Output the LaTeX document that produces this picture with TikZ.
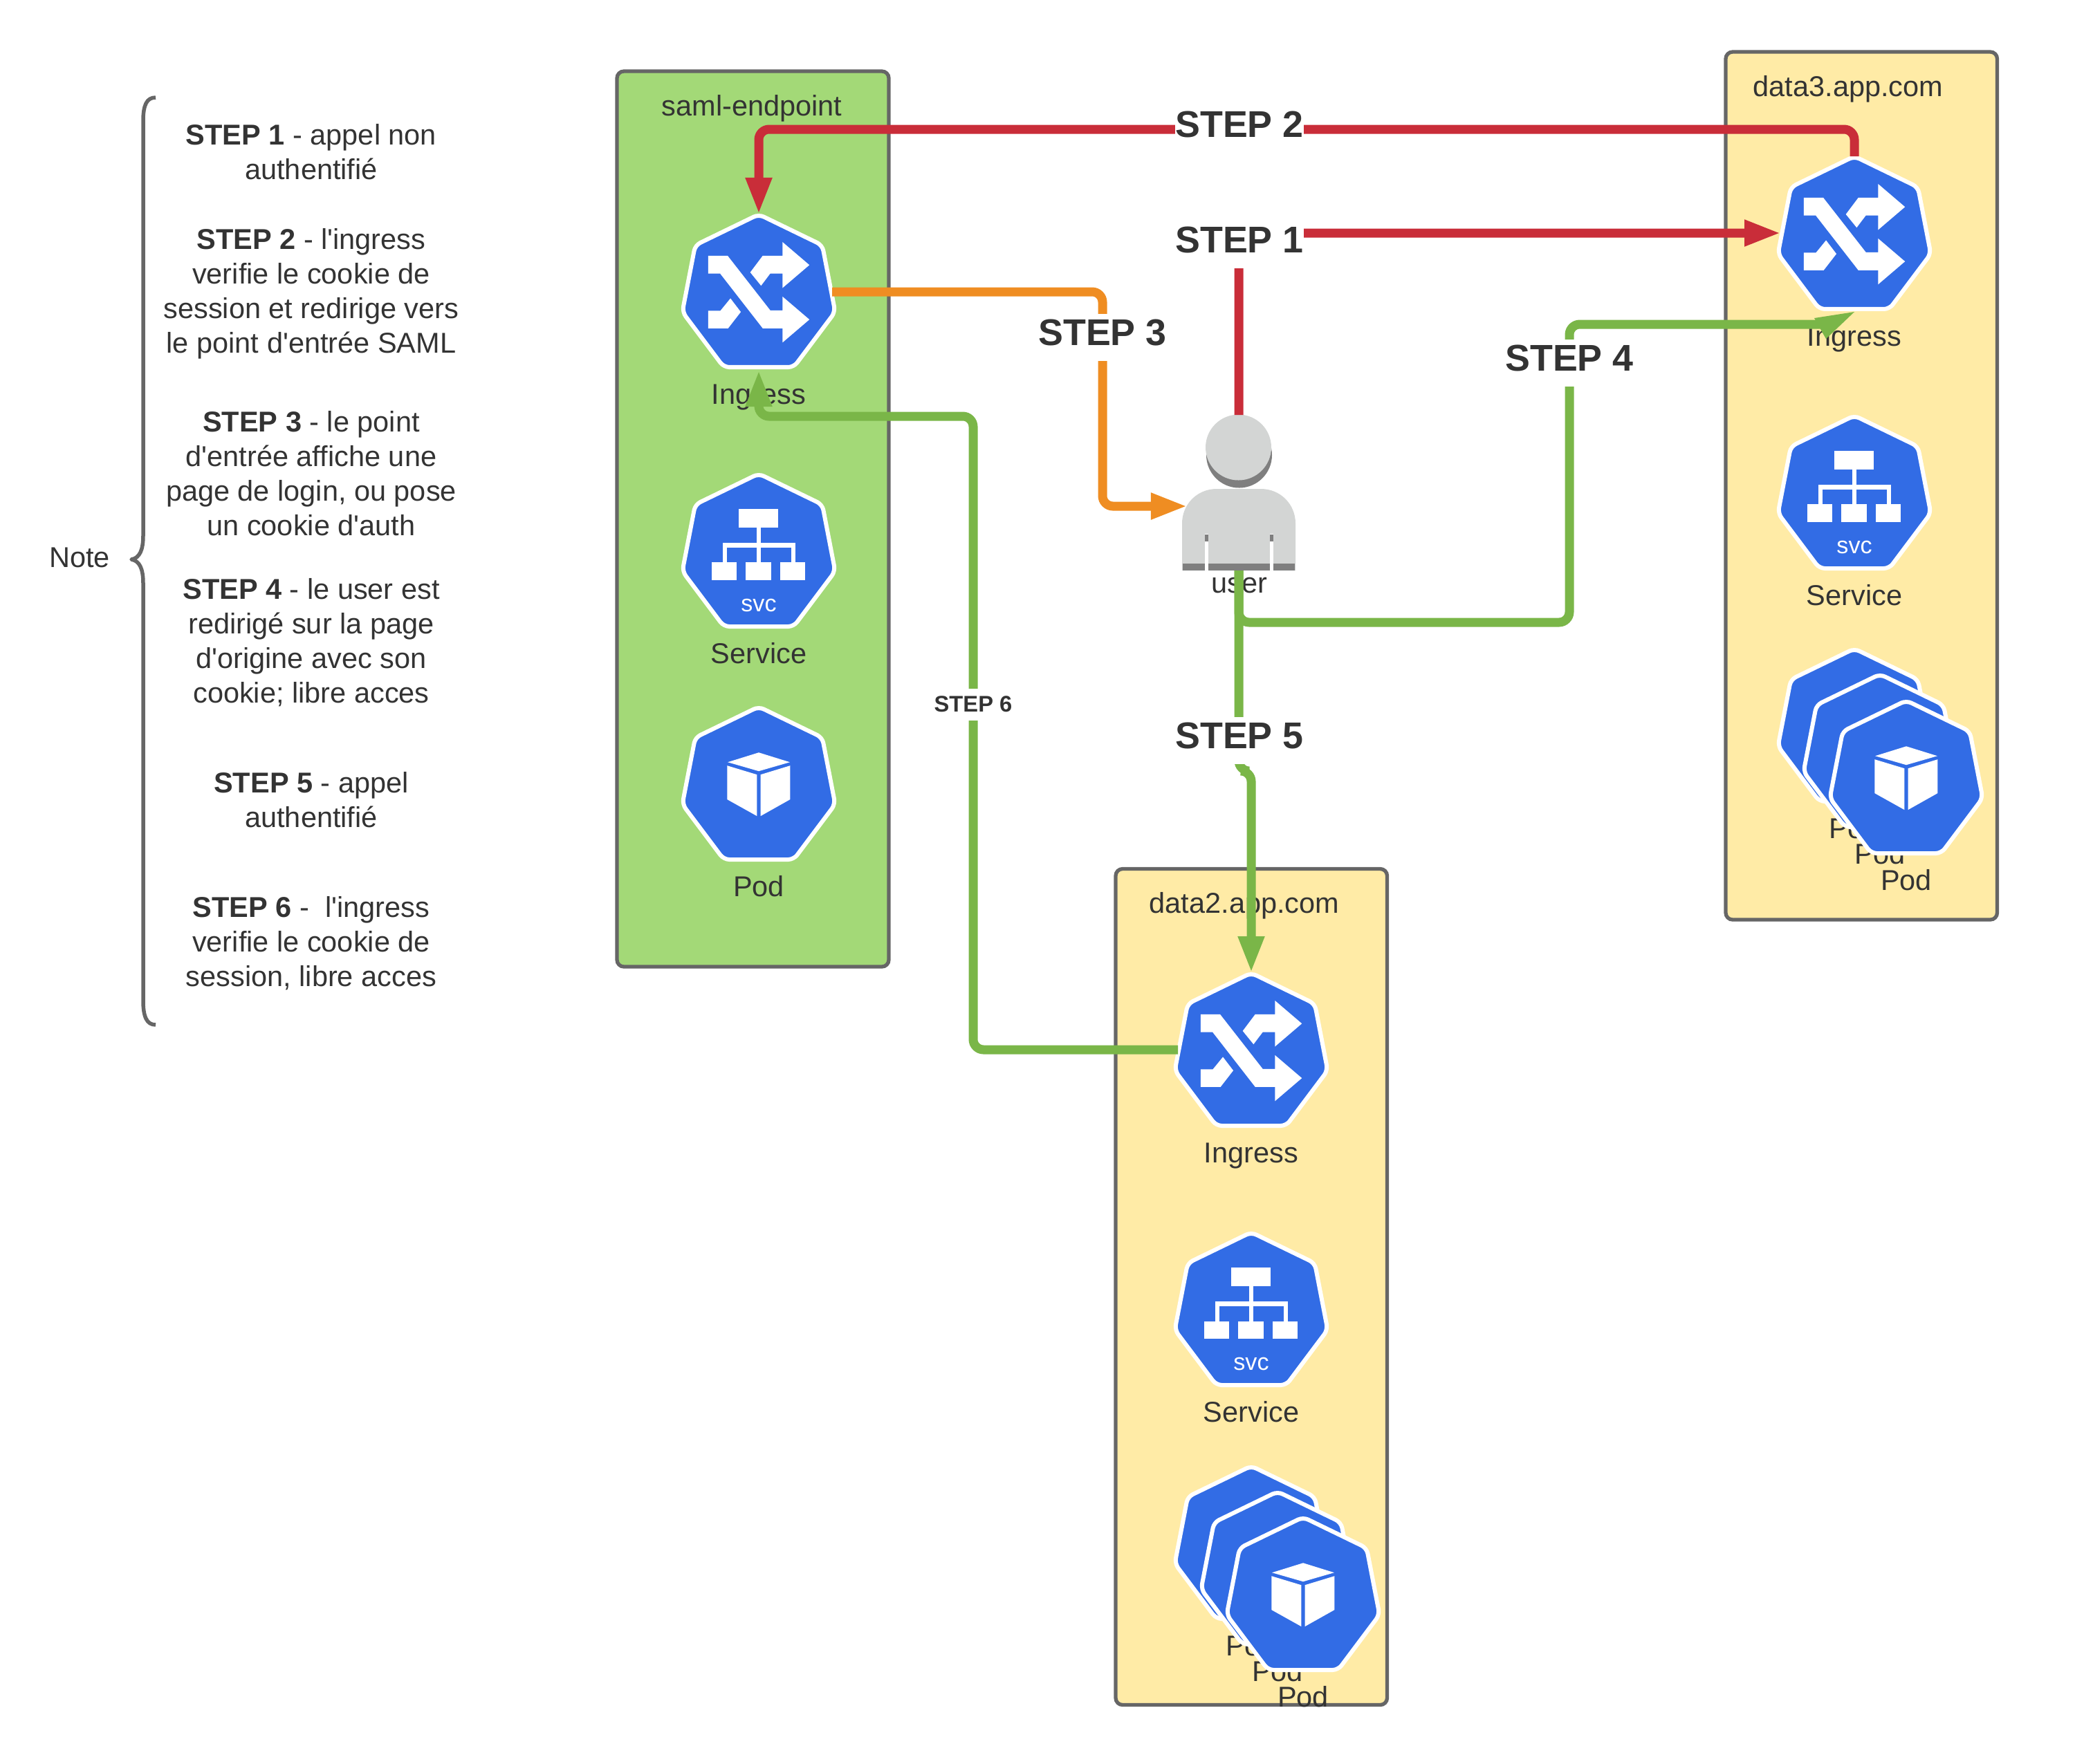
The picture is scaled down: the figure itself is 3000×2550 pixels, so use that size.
\documentclass[tikz,border=0pt]{standalone}
\usepackage{fontspec}
\setmainfont{Liberation Sans}
\newfontfamily\libplain{Liberation Sans}
\usetikzlibrary{arrows.meta,calc}
\definecolor{kblue}{HTML}{326CE5}
\definecolor{ink}{HTML}{333333}
\definecolor{framec}{HTML}{666666}
\definecolor{samlg}{HTML}{A3D977}
\definecolor{datay}{HTML}{FFEBA6}
\definecolor{cred}{HTML}{C92D39}
\definecolor{corange}{HTML}{EF8D22}
\definecolor{cgreen}{HTML}{7AB648}
\definecolor{ulight}{HTML}{D3D5D4}
\definecolor{udark}{HTML}{7F7F7F}
\tikzset{
  zone/.style={draw=framec,line width=0.053cm,rounded corners=0.1cm},
  txt/.style={text=ink,font=\libplain\fontsize{11.8}{14.22}\selectfont,inner sep=0pt,align=center},
  basetxt/.style={txt,anchor=base},
  steplbl/.style={fill=white,text=ink,font=\fontsize{15.3}{18}\selectfont\bfseries,inner xsep=0pt,inner ysep=0pt,text height=0.455cm,text depth=0.225cm},
  steplblsmall/.style={fill=white,text=ink,font=\fontsize{9.3}{11}\selectfont\bfseries,inner xsep=1pt,inner ysep=0pt,text height=0.33cm,text depth=0.13cm},
  link/.style={line width=0.13cm,rounded corners=0.15cm},
  tip/.style={-{Triangle[length=0.53cm,width=0.35cm]}},
  hept/.style={fill=kblue,draw=white,line width=0.06cm,rounded corners=0.08cm},
}
% glyphs, drawn in a frame where the top of the heptagon is at (440,88), 3 units per pixel
\newcommand\glyphIngress[1]{%
  \fill[white] (220,268)--(305,268)--(490,505)--(543,505)--(543,445)--(660,545)--(543,645)--(543,583)--(457,583)--(272,345)--(220,345)--cycle;
  \fill[white] (403,340)--(457,268)--(543,268)--(543,208)--(660,308)--(543,408)--(543,345)--(490,345)--(450,398)--cycle;
  \fill[white] (220,507)--(273,507)--(317,453)--(362,512)--(307,583)--(220,583)--cycle;
}
\newcommand\glyphSvc[1]{%
  \fill[white] (354,240) rectangle (525,322);
  \fill[white] (431,322) rectangle (449,474);
  \fill[white] (283,387) rectangle (598,409);
  \fill[white] (283,387) rectangle (302,474);
  \fill[white] (580,387) rectangle (598,474);
  \fill[white] (237,474) rectangle (345,552);
  \fill[white] (384,474) rectangle (495,552);
  \fill[white] (534,474) rectangle (642,552);
  \node[text=white,font=\fontsize{9.7}{11}\selectfont,inner sep=0pt,anchor=base] (#1-svc) at (440,688) {svc};
}
\newcommand\glyphPod[1]{%
  \fill[white] (440,287)--(575,329)--(440,368)--(305,329)--cycle;
  \fill[white] (303,344)--(432,383)--(432,563)--(303,491)--cycle;
  \fill[white] (576,344)--(448,383)--(448,563)--(576,491)--cycle;
}
% name, x of centre, y of top, glyph, caption
\newcommand\kicon[5]{%
  \begin{scope}[shift={(#2,#3)}]
    \coordinate (#1) at (0,125);
    \coordinate (#1-n) at (0,0);
    \coordinate (#1-w) at (-106,111);
    \coordinate (#1-e) at (106,112);
    \coordinate (#1-s) at (0,225);
    \node[basetxt] (#1-label) at (0,274) {#5};
    \begin{scope}[x=0.003333cm,y=-0.003333cm,shift={(-440,-88)}]
      \draw[hept] (440,88)--(716,222)--(772,512)--(592,752)--(288,752)--(108,512)--(164,222)--cycle;
      #4{#1}
    \end{scope}
  \end{scope}
}
\begin{document}
\begin{tikzpicture}[x=0.01cm,y=-0.01cm]
\useasboundingbox (0,0) rectangle (3000,2550);
% zones
\path[zone,fill=samlg] (892,103) rectangle (1285,1398);
\path[zone,fill=datay] (2495,75) rectangle (2887.5,1330);
\path[zone,fill=datay] (1613,1256.5) rectangle (2005.5,2465.5);
\node[basetxt] (samltitle) at (1087,167) {saml-endpoint};
\node[basetxt] (data3title) at (2672,139) {data3.app.com};
\node[basetxt] (data2title) at (1799,1320) {data2.app.com};
% kubernetes icons
\kicon{ingS}{1097}{310}{\glyphIngress}{Ingress}
\kicon{svcS}{1097}{685}{\glyphSvc}{Service}
\kicon{podS}{1097}{1022}{\glyphPod}{Pod}
\kicon{ingT}{2681}{226}{\glyphIngress}{Ingress}
\kicon{svcT}{2681}{601}{\glyphSvc}{Service}
\kicon{podTa}{2681}{938}{\glyphPod}{Pod}
\kicon{podTb}{2718}{975}{\glyphPod}{Pod}
\kicon{podTc}{2756}{1013}{\glyphPod}{Pod}
\kicon{ingD}{1809}{1407}{\glyphIngress}{Ingress}
\kicon{svcD}{1809}{1782}{\glyphSvc}{Service}
\kicon{podDa}{1809}{2120}{\glyphPod}{Pod}
\kicon{podDb}{1847}{2157}{\glyphPod}{Pod}
\kicon{podDc}{1884}{2194}{\glyphPod}{Pod}
% user
\coordinate (user-n) at (1791,600);
\coordinate (user-w) at (1717,732);
\coordinate (user-s) at (1791,825);
\fill[udark] (1791.5,658) circle (47.5);
\fill[ulight] (1790.5,647) circle (47.5);
\fill[ulight] (1709,825) -- (1709,757) .. controls (1709,729) and (1731,707) .. (1759,707) -- (1823,707) .. controls (1851,707) and (1873,729) .. (1873,757) -- (1873,825) -- cycle;
\fill[white] (1742,772) rectangle (1747,825);
\fill[white] (1836,772) rectangle (1841,825);
\fill[udark] (1742,773) rectangle (1747,783);
\fill[udark] (1836,773) rectangle (1841,783);
\fill[udark] (1710,815) rectangle (1742,825);
\fill[udark] (1747,815) rectangle (1836,825);
\fill[udark] (1841,815) rectangle (1872,825);
\node[txt] (userlabel) at (1792,847) {user};
% notes
\node[txt] (notelabel) at (115,806) {Note};
\coordinate (brTop) at (225,141);
\coordinate (brTip) at (190,809);
\coordinate (brBot) at (225,1482);
\draw[framec,line width=0.055cm,line join=round] (brTop) .. controls (212,141) and (207,152) .. (207,175) -- (207,775) .. controls (207,795) and (202,807) .. (brTip) .. controls (202,811) and (207,823) .. (207,843) -- (207,1447) .. controls (207,1470) and (212,1482) .. (brBot);
\node[txt] (n1) at (450,220) {\textbf{STEP 1} - appel non\\authentifié};
\node[txt] (n2) at (450,425) {\textbf{STEP 2} - l'ingress\\verifie le cookie de\\session et redirige vers\\le point d'entrée SAML};
\node[txt] (n3) at (450,685) {\textbf{STEP 3} - le point\\d'entrée affiche une\\page de login, ou pose\\un cookie d'auth};
\node[txt] (n4) at (450,929) {\textbf{STEP 4} - le user est\\redirigé sur la page\\d'origine avec son\\cookie; libre acces};
\node[txt] (n5) at (450,1157) {\textbf{STEP 5} - appel\\authentifié};
\node[txt] (n6) at (450,1364) {\textbf{STEP 6} -\ \ l'ingress\\verifie le cookie de\\session, libre acces};
% connector way points
\coordinate (s1c) at (1792,354);
\coordinate (s2c) at (1792,187);
\coordinate (s3c) at (1594,488);
\coordinate (s4c) at (2269,525);
\coordinate (s5c) at (1792,1071);
\coordinate (s6c) at (1407,1019);
\coordinate (top2) at (2000,187);
\coordinate (jog5) at (1809,1115);
\coordinate (turn4) at (2269,900);
\coordinate (base4) at (2633,469);
\coordinate (turn6b) at (1407,602);
\coordinate (head4a) at (2623,460);
\coordinate (head4b) at (2640,490);
% connectors
\draw[link,cred,tip] (user-n) |- (ingT-w);
\draw[link,cred,tip] (ingT-n) |- (top2) -| (ingS-n);
\draw[link,corange,tip] (ingS-e) -| (s3c) |- (user-w);
\draw[link,cgreen] (user-s) |- (turn4) |- (base4);
\fill[cgreen] (head4a) -- (ingT-s) -- (head4b) -- cycle;
\draw[link,cgreen,tip] (user-s) |- (jog5) -- (ingD-n);
\draw[link,cgreen,tip] (ingD-w) -| (turn6b) -| (ingS-s);
% labels on the connectors
\node[steplbl] (s1) at (s1c) {STEP 1};
\node[steplbl] (s2) at (s2c) {STEP 2};
\node[steplbl] (s3) at (s3c) {STEP 3};
\node[steplbl] (s4) at (s4c) {STEP 4};
\node[steplbl] (s5) at (s5c) {STEP 5};
\node[steplblsmall] (s6) at (s6c) {STEP 6};
\end{tikzpicture}
\end{document}
